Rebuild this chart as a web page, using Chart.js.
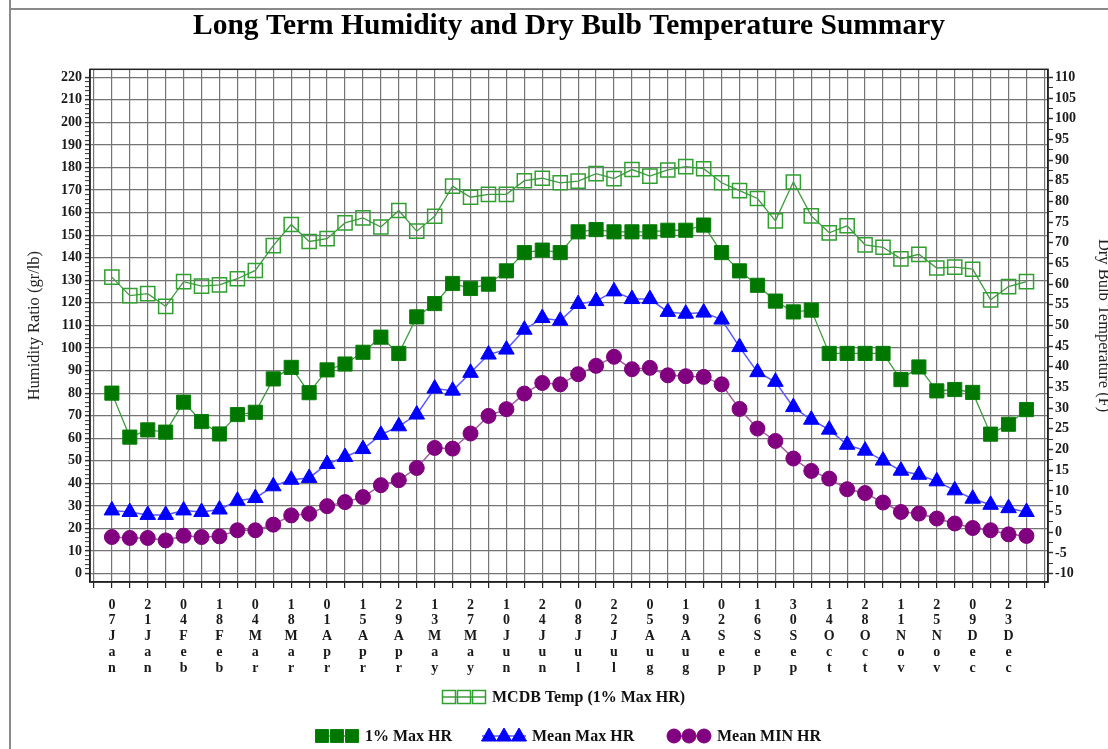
<!DOCTYPE html>
<html>
<head>
<meta charset="utf-8">
<title>Long Term Humidity and Dry Bulb Temperature Summary</title>
<script src="https://cdn.jsdelivr.net/npm/chart.js@4.4.1/dist/chart.umd.min.js"></script>
<style>
html, body { margin: 0; padding: 0; background: #fff; }
#wrap { position: relative; width: 1108px; height: 749px; }
</style>
</head>
<body>
<div id="wrap"><canvas id="canvas" width="1108" height="749"></canvas></div>
<script>
// weekly dates, one per data point (every other one is labelled)
var weeks = ['07Jan','14Jan','21Jan','28Jan','04Feb','11Feb','18Feb','25Feb','04Mar','11Mar',
  '18Mar','25Mar','01Apr','08Apr','15Apr','22Apr','29Apr','06May','13May','20May',
  '27May','03Jun','10Jun','17Jun','24Jun','01Jul','08Jul','15Jul','22Jul','29Jul',
  '05Aug','12Aug','19Aug','26Aug','02Sep','09Sep','16Sep','23Sep','30Sep','07Oct',
  '14Oct','21Oct','28Oct','04Nov','11Nov','18Nov','25Nov','02Dec','09Dec','16Dec',
  '23Dec','30Dec'];

// humidity ratio (gr/lb)
var maxHr1 = [80, 60.5, 63.7, 62.7, 76, 67.4, 61.9, 70.5, 71.5, 86.3,
  91.4, 80.2, 90.3, 92.9, 98.1, 104.8, 97.6, 113.8, 119.7, 128.6,
  126.4, 128.3, 134.2, 142.3, 143.4, 142.3, 151.5, 152.5, 151.5, 151.5,
  151.5, 152.2, 152.2, 154.5, 142.3, 134.2, 127.8, 120.8, 116, 116.8,
  97.6, 97.6, 97.6, 97.6, 86, 91.6, 81, 81.6, 80.3, 61.8,
  66.2, 72.7];
var meanMaxHr = [28, 27.3, 26, 26, 28, 27.3, 28.4, 32.3, 33.5, 38.7,
  41.6, 42.4, 48.6, 51.7, 55.2, 61.5, 65.3, 70.5, 82, 81.1,
  89, 97.1, 99.3, 108.1, 113.3, 112.1, 119.5, 120.8, 125.1, 121.7,
  121.7, 116, 115.2, 115.7, 112.6, 100.4, 89.3, 85, 73.8, 68.2,
  63.8, 57.1, 54.5, 50.1, 45.6, 43.8, 40.9, 36.9, 33.2, 30.5,
  29, 27.3];
var meanMinHr = [16.2, 15.8, 15.8, 14.7, 16.8, 16.2, 16.5, 19.2, 19.2, 21.7,
  25.8, 26.5, 29.9, 31.7, 33.9, 39.2, 41.4, 46.8, 55.7, 55.4,
  62.1, 69.9, 72.9, 79.8, 84.5, 83.9, 88.4, 92.1, 96.1, 90.6,
  91.2, 87.9, 87.5, 87.2, 83.9, 73, 64.3, 58.8, 51, 45.5,
  42.1, 37.4, 35.7, 31.5, 27.3, 26.6, 24.4, 22.2, 20.2, 19.2,
  17.4, 16.7];
// mean coincident dry bulb temperature (F)
var mcdbTemp = [61.7, 57.2, 57.7, 54.6, 60.6, 59.5, 59.8, 61.3, 63.3, 69.3,
  74.4, 70.3, 71, 74.8, 76, 73.8, 77.8, 72.8, 76.4, 83.7,
  81, 81.7, 81.7, 85, 85.6, 84.5, 84.9, 86.7, 85.5, 87.7,
  86.1, 87.6, 88.4, 87.9, 84.5, 82.6, 80.7, 75.3, 84.7, 76.5,
  72.4, 74.1, 69.5, 68.9, 66.1, 67.2, 63.9, 64.1, 63.6, 56.2,
  59.4, 60.6];

var hrMin = 0, hrMax = 220, hrStep = 10;
var tempMin = -10, tempMax = 110, tempStep = 5;

function pts(arr) {
  return arr.map(function(v, i) { return {x: i, y: v}; });
}

var serif = "'Liberation Serif', 'Times New Roman', serif";
var gridCol = '#747474';

// draws the two-row legend and the plot frame
var extras = {
  id: 'extras',
  beforeDraw: function(chart) {
    var ctx = chart.ctx;
    ctx.save();
    ctx.fillStyle = '#8a8a8a';
    ctx.fillRect(9, 0, 2, 749);
    ctx.fillRect(9, 8, 1099, 2);
    ctx.restore();
  },
  beforeDatasetsDraw: function(chart) {
    var a = chart.chartArea, ctx = chart.ctx;
    ctx.save();
    ctx.strokeStyle = '#222';
    ctx.lineWidth = 1.5;
    ctx.strokeRect(a.left, a.top, a.right - a.left, a.bottom - a.top);
    ctx.restore();
  },
  afterDraw: function(chart) {
    var ctx = chart.ctx;
    var spots = [[315, 736], [482, 736], [667, 736], [442, 697]];
    chart.data.datasets.forEach(function(ds, k) {
      var x = spots[k][0], y = spots[k][1];
      ctx.save();
      ctx.strokeStyle = ds.borderColor;
      ctx.lineWidth = 1.5;
      ctx.beginPath();
      ctx.moveTo(x, y);
      ctx.lineTo(x + 44, y);
      ctx.stroke();
      for (var j = 0; j < 3; j++) {
        var cx = x + 7 + j * 15;
        ctx.fillStyle = ds.pointBackgroundColor;
        ctx.strokeStyle = ds.pointBorderColor;
        ctx.lineWidth = ds.pointBorderWidth;
        ctx.beginPath();
        if (ds.pointStyle === 'rect') {
          ctx.rect(cx - 6.5, y - 6.5, 13, 13);
        } else if (ds.pointStyle === 'triangle') {
          ctx.moveTo(cx, y - 8);
          ctx.lineTo(cx + 7.5, y + 5);
          ctx.lineTo(cx - 7.5, y + 5);
          ctx.closePath();
        } else {
          ctx.arc(cx, y, 7, 0, Math.PI * 2);
        }
        ctx.fill();
        ctx.stroke();
      }
      ctx.fillStyle = '#111';
      ctx.font = 'bold 16px ' + serif;
      ctx.textBaseline = 'middle';
      ctx.fillText(ds.label, x + 50, y + 1);
      ctx.restore();
    });
  }
};

var ctx = document.getElementById('canvas').getContext('2d');
var myChart = new Chart(ctx, {
  type: 'line',
  data: {
    datasets: [
      {
        label: '1% Max HR',
        data: pts(maxHr1),
        yAxisID: 'y',
        borderColor: '#3f9a3f',
        borderWidth: 1.3,
        pointStyle: 'rect',
        pointRadius: 10,
        pointBackgroundColor: '#007800',
        pointBorderColor: '#0a7f0a',
        pointBorderWidth: 1
      },
      {
        label: 'Mean Max HR',
        data: pts(meanMaxHr),
        yAxisID: 'y',
        borderColor: '#5a5aff',
        borderWidth: 1.5,
        pointStyle: 'triangle',
        pointRadius: 9,
        pointBackgroundColor: '#0000ff',
        pointBorderColor: '#0000ff',
        pointBorderWidth: 1
      },
      {
        label: 'Mean MIN HR',
        data: pts(meanMinHr),
        yAxisID: 'y',
        borderColor: '#a060a0',
        borderWidth: 1.5,
        pointStyle: 'circle',
        pointRadius: 7.5,
        pointBackgroundColor: '#800080',
        pointBorderColor: '#800080',
        pointBorderWidth: 1
      },
      {
        label: 'MCDB Temp (1% Max HR)',
        data: pts(mcdbTemp),
        yAxisID: 'y2',
        borderColor: '#3f9a3f',
        borderWidth: 1.3,
        pointStyle: 'rect',
        pointRadius: 10,
        pointBackgroundColor: 'rgba(255,255,255,0)',
        pointBorderColor: '#30a030',
        pointBorderWidth: 1.5
      }
    ]
  },
  options: {
    responsive: false,
    animation: false,
    layout: { padding: 0 },
    elements: { line: { tension: 0 } },
    plugins: {
      legend: { display: false },
      tooltip: { enabled: false },
      title: {
        display: true,
        fullSize: false,
        text: 'Long Term Humidity and Dry Bulb Temperature Summary',
        color: '#000',
        font: { family: serif, size: 29.5, weight: 'bold', lineHeight: 1.2 },
        padding: { top: 9, bottom: 24.9 }
      }
    },
    scales: {
      x: {
        type: 'linear',
        min: -1.22,
        max: 52.2,
        afterBuildTicks: function(scale) {
          var t = [];
          for (var i = -1; i <= weeks.length; i++) t.push({value: i});
          scale.ticks = t;
        },
        afterFit: function(scale) { scale.height = 167; },
        grid: { color: gridCol, lineWidth: 1.2, tickLength: 6, tickColor: '#222' },
        border: { display: true, color: '#222', width: 1.5 },
        ticks: {
          autoSkip: false,
          maxRotation: 0,
          minRotation: 0,
          padding: 9,
          color: '#1a1a1a',
          font: { family: serif, size: 14, weight: 'bold', lineHeight: 1.13 },
          callback: function(v) {
            if (v >= 0 && v < weeks.length && v % 2 === 0) return weeks[v].split('');
            return '';
          }
        }
      },
      y: {
        position: 'left',
        min: -3.73,
        max: 223.55,
        afterBuildTicks: function(scale) {
          var t = [];
          for (var v = hrMin; v <= hrMax; v += 2) t.push({value: v});
          scale.ticks = t;
        },
        afterFit: function(scale) { scale.width = 90; },
        grid: {
          color: function(c) { return c.tick && c.tick.value % hrStep === 0 ? gridCol : 'rgba(0,0,0,0)'; },
          lineWidth: 1.2,
          tickLength: 5,
          tickColor: '#333',
          tickWidth: function(c) { return c.tick && c.tick.value % hrStep === 0 ? 1.5 : 1; }
        },
        border: { display: true, color: '#222', width: 1.5 },
        title: {
          display: true,
          text: 'Humidity Ratio (gr/lb)',
          color: '#222',
          font: { family: serif, size: 16.5 },
          padding: { top: 25, bottom: 0 }
        },
        ticks: {
          autoSkip: false,
          padding: 3,
          color: '#1a1a1a',
          font: { family: serif, size: 14, weight: 'bold' },
          callback: function(v) { return v % hrStep === 0 ? String(v) : ''; }
        }
      },
      y2: {
        position: 'right',
        min: -12.03,
        max: 111.94,
        afterBuildTicks: function(scale) {
          var t = [];
          for (var v = tempMin; v <= tempMax; v += 2.5) t.push({value: v});
          scale.ticks = t;
        },
        afterFit: function(scale) { scale.width = 60; },
        grid: {
          drawOnChartArea: false,
          tickLength: 5,
          tickColor: '#333',
          tickWidth: function(c) { return c.tick && c.tick.value % tempStep === 0 ? 1.5 : 1; }
        },
        border: { display: true, color: '#222', width: 1.5 },
        title: {
          display: true,
          text: 'Dry Bulb Temperature (F)',
          color: '#222',
          font: { family: serif, size: 16.5 },
          padding: { top: -5, bottom: 0 }
        },
        ticks: {
          autoSkip: false,
          padding: 2,
          color: '#1a1a1a',
          font: { family: serif, size: 14, weight: 'bold' },
          callback: function(v) { return v % tempStep === 0 ? String(v) : ''; }
        }
      }
    }
  },
  plugins: [extras]
});
</script>
</body>
</html>
